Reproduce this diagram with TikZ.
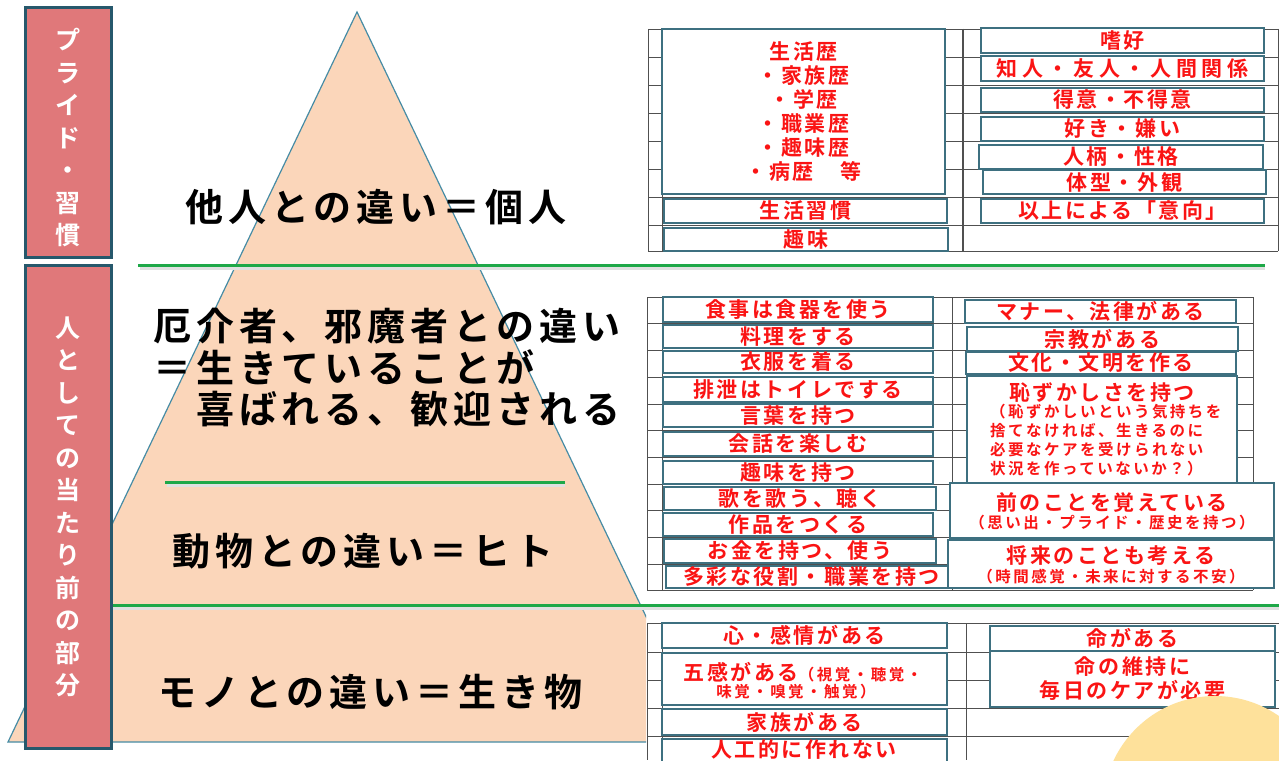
\documentclass[tikz,border=0pt]{standalone}
\usepackage{fontspec}
\setmainfont{Noto Sans CJK JP}
\newfontfamily\jpb{Noto Sans CJK JP Bold}
\newfontfamily\bigf{Noto Sans CJK JP Bold}[LetterSpace=13]
\newfontfamily\redf{Noto Sans CJK JP Bold}[LetterSpace=12]
\newfontfamily\smf{Noto Sans CJK JP Bold}[LetterSpace=16]
\definecolor{sidefill}{RGB}{224,120,122}
\definecolor{sidedraw}{RGB}{38,88,108}
\definecolor{peach}{RGB}{251,214,186}
\definecolor{tealedge}{RGB}{70,140,165}
\definecolor{grn}{RGB}{30,168,72}
\definecolor{boxc}{RGB}{62,112,128}
\definecolor{redt}{RGB}{250,20,20}
\definecolor{gridc}{RGB}{80,80,80}
\definecolor{yel}{RGB}{254,225,155}
\tikzset{
  redbox/.style={draw=boxc, line width=1.6, fill=white, text=redt, inner sep=0pt,
    align=center, font=\redf\fontsize{21}{24}\selectfont},
  redtxt/.style={text=redt, inner sep=0pt, font=\redf\fontsize{21}{24}\selectfont},
  smtxt/.style={text=redt, inner sep=0pt, align=left, font=\smf\fontsize{15.5}{19}\selectfont},
  bigtxt/.style={anchor=west, inner sep=0pt, align=left, text=black, font=\bigf\fontsize{38}{41.5}\selectfont},
  sidebox/.style={draw=sidedraw, line width=3, fill=sidefill},
  sidetxt/.style={text=white, align=center, inner sep=0pt, font=\jpb\fontsize{25}{32.5}\selectfont},
  gline/.style={draw=grn, line width=3},
  gshadow/.style={draw=black!12, line width=3},
  grid/.style={draw=gridc, line width=0.9},
}
\newcommand\bx[6]{\node[redbox, minimum width={(#4-#2)*1pt}, minimum height={(#5-#3)*1pt}] (#1) at ({(#2+#4)/2},{(#3+#5)/2}) {#6};}
\begin{document}
\begin{tikzpicture}[x=1pt,y=-1pt]
\useasboundingbox (0,0) rectangle (1279,760);
\fill[white] (0,0) rectangle (1279,760);
% pyramid
\begin{scope}
\clip (0,0) rectangle (646,760);
\filldraw[fill=peach, draw=tealedge, line width=1.2] (357,12) -- (8,742) -- (706,742) -- cycle;
\end{scope}
% green lines
\draw[gshadow] (140,268) -- (1265,268);
\draw[gline] (138,265) -- (1265,265);
\draw[gshadow] (167,485) -- (565,485);
\draw[gline] (165,482) -- (565,482);
\draw[gshadow] (112,608) -- (1279,608);
\draw[gline] (110,605) -- (1279,605);
% main texts
\node[bigtxt] (t1) at (185,207) {他人との違い＝個人};
\node[bigtxt] (t2) at (153,368) {厄介者、邪魔者との違い\\＝生きていることが\\　喜ばれる、歓迎される};
\node[bigtxt] (t3) at (172,551) {動物との違い＝ヒト};
\node[bigtxt] (t4) at (158,692) {モノとの違い＝生き物};
% side boxes
\draw[sidebox] (25,8) rectangle (111,257);
\draw[sidebox] (25,265) rectangle (111,748);
\node[sidetxt] (s1) at (68,138) {プ\\ラ\\イ\\ド\\・\\習\\慣};
\node[sidetxt] (s2) at (68,507) {人\\と\\し\\て\\の\\当\\た\\り\\前\\の\\部\\分};
% top table grid
\fill[white] (648,29) rectangle (1278,251);
\foreach \y in {29,57,85,113,141,169,197,225,251} \draw[grid] (648,\y) -- (1278,\y);
\foreach \x in {648,662,963,1278} \draw[grid] (\x,29) -- (\x,251);
\draw[gridc, line width=1.4] (963,29) -- (963,251);
% middle table grid
\fill[white] (647,297) rectangle (1253,590);
\foreach \y in {297,323,350,377,404,430,457,484,510,537,564,590} \draw[grid] (647,\y) -- (1253,\y);
\foreach \x in {647,662,952,1253} \draw[grid] (\x,297) -- (\x,590);
% bottom table grid
\fill[white] (647,623) rectangle (1279,760);
\foreach \y in {623,652,680,708,736} \draw[grid] (647,\y) -- (1279,\y);
\foreach \x in {647,662,966} \draw[grid] (\x,623) -- (\x,760);
% top boxes
\bx{b1}{662}{29}{945}{194}{\fontsize{21}{25.4}\selectfont 生活歴\\・家族歴\\・学歴\\・職業歴\\・趣味歴\\・病歴　等}
\bx{b2}{664}{199}{947}{223}{生活習慣}
\bx{b3}{664}{228}{948}{251}{趣味}
\bx{b4}{981}{28}{1264}{53}{嗜好}
\bx{b5}{981}{56}{1264}{81}{\addfontfeature{LetterSpace=22}知人・友人・人間関係}
\bx{b6}{981}{88}{1264}{112}{得意・不得意}
\bx{b7}{981}{117}{1264}{141}{好き・嫌い}
\bx{b8}{979}{145}{1263}{169}{人柄・性格}
\bx{b9}{983}{170}{1266}{194}{体型・外観}
\bx{b10}{981}{199}{1264}{223}{以上による「意向」}
% middle boxes
\bx{m1}{663}{297}{933}{322}{食事は食器を使う}
\bx{m2}{663}{325}{933}{348}{料理をする}
\bx{m3}{663}{351}{933}{373}{衣服を着る}
\bx{m4}{663}{377}{933}{402}{排泄はトイレでする}
\bx{m5}{663}{404}{933}{427}{言葉を持つ}
\bx{m6}{663}{432}{933}{456}{会話を楽しむ}
\bx{m7}{663}{461}{933}{484}{趣味を持つ}
\bx{m8}{664}{487}{936}{510}{歌を歌う、聴く}
\bx{m9}{663}{513}{933}{536}{作品をつくる}
\bx{m10}{664}{539}{936}{563}{お金を持つ、使う}
\bx{m11}{666}{566}{957}{588}{多彩な役割・職業を持つ}
\bx{n1}{965}{300}{1236}{323}{マナー、法律がある}
\bx{n2}{967}{327}{1238}{351}{宗教がある}
\bx{n3}{966}{352}{1236}{374}{文化・文明を作る}
\bx{n4}{967}{376}{1237}{483}{}
\node[redtxt] (n4a) at (1102,393) {恥ずかしさを持つ};
\node[smtxt, anchor=north west] (n4b) at (990,404) {（恥ずかしいという気持ちを\\捨てなければ、生きるのに\\必要なケアを受けられない\\状況を作っていないか？）};
\bx{n5}{950}{483}{1274}{538}{}
\node[redtxt] (n5a) at (1112,503) {前のことを覚えている};
\node[smtxt] (n5b) at (1112,523) {（思い出・プライド・歴史を持つ）};
\bx{n6}{948}{540}{1274}{588}{}
\node[redtxt] (n6a) at (1111,556) {将来のことも考える};
\node[smtxt] (n6b) at (1111,577) {（時間感覚・未来に対する不安）};
% bottom boxes
\bx{c1}{662}{623}{947}{648}{心・感情がある}
\bx{c2}{662}{653}{947}{705}{}
\node[redtxt] (c2a) at (803,672) {五感がある{\smf\fontsize{15.5}{19}\selectfont（視覚・聴覚・}};
\node[smtxt] (c2b) at (796,692) {味覚・嗅覚・触覚）};
\bx{c3}{662}{709}{947}{735}{家族がある}
\bx{c4}{662}{739}{947}{775}{}
\node[redtxt] (c4a) at (804,749) {人工的に作れない};
\bx{d1}{990}{626}{1275}{651}{命がある}
\bx{d2}{990}{651}{1275}{707}{命の維持に\\毎日のケアが必要}
% yellow circle
\fill[yel] (1215,808) circle (112);
\end{tikzpicture}
\end{document}
